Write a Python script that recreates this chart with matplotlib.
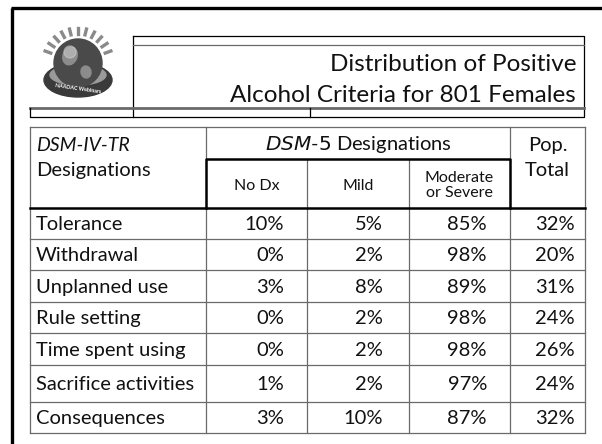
import math
import matplotlib
matplotlib.use("Agg")
import matplotlib.pyplot as plt
from matplotlib.patches import Circle, Ellipse

plt.rcParams['font.family'] = ['Lato', 'DejaVu Sans']

# table data
criteria = ["Tolerance", "Withdrawal", "Unplanned use", "Rule setting",
            "Time spent using", "Sacrifice activities", "Consequences"]
no_dx = [10, 0, 3, 0, 0, 1, 3]
mild = [5, 2, 8, 2, 2, 2, 10]
moderate_severe = [85, 98, 89, 98, 98, 97, 87]
pop_total = [32, 20, 31, 24, 26, 24, 32]
sub_headers = ["No Dx", "Mild", "Moderate\nor Severe"]
title_lines = ["Distribution of Positive", "Alcohol Criteria for 801 Females"]

# layout in pixels
col_x = [30, 206, 307, 409, 510, 585]
row_y = [208, 239, 270, 302, 333, 365, 402, 433]
top_y, sub_y = 127, 159
value_right = [284, 383, 487, 575]

fig = plt.figure(figsize=(6.02, 4.44), dpi=100)
ax = fig.add_axes([0, 0, 1, 1])
ax.set_xlim(0, 602)
ax.set_ylim(444, 0)
ax.axis('off')

ink = '#111111'
grid = '#6a6a6a'
fs = 14.5

# slide frame
ax.plot([12, 12], [444, 8], color='black', lw=2.4, solid_capstyle='butt')
ax.plot([11, 602], [8, 8], color='black', lw=2.4, solid_capstyle='butt')

# title box
ax.plot([133, 584, 584, 133, 133], [36, 36, 117, 117, 36], color='black', lw=0.9)
ax.plot([133, 584], [45, 45], color=grid, lw=0.9)
ax.plot([30, 584], [108, 108], color=grid, lw=2.0)
ax.plot([30, 30, 133], [108, 117, 117], color='black', lw=0.9)
ax.plot([310, 310], [108, 117], color='black', lw=0.9)
ax.text(576, 71, title_lines[0], ha='right', va='baseline', fontsize=17.5, color=ink)
ax.text(576, 102, title_lines[1], ha='right', va='baseline', fontsize=17.5, color=ink)

# logo (rough)
ax.add_patch(Ellipse((78, 80), 68, 34, color='#3a3a3a', zorder=2))
ax.add_patch(Ellipse((78, 75), 56, 20, color='#9a9a9a', zorder=2))
ax.add_patch(Circle((78, 63), 24, color='#4a4a4a', zorder=3))
ax.add_patch(Ellipse((70, 56), 14, 18, angle=20, color='#8c8c8c', zorder=3))
ax.add_patch(Ellipse((86, 72), 10, 12, angle=-10, color='#8c8c8c', zorder=3))
ax.add_patch(Circle((70, 52), 6, color='#d0d0d0', alpha=0.5, zorder=3))
for i in range(11):
    a = math.radians(200 + i * 14)
    ax.plot([78 + 29 * math.cos(a), 78 + 35 * math.cos(a)],
            [63 + 29 * math.sin(a), 63 + 35 * math.sin(a)],
            color='#8a8a8a', lw=2.4, zorder=2)
ax.text(78, 89, "NAADAC Webinars", ha='center', va='center', fontsize=3.8,
        color='white', rotation=-8, fontweight='bold', zorder=4)

# table grid
for y in [top_y] + row_y[1:]:
    ax.plot([col_x[0], col_x[-1]], [y, y], color=grid, lw=0.9)
for x in [col_x[0], col_x[-1]]:
    ax.plot([x, x], [top_y, row_y[-1]], color=grid, lw=0.9)
for x in col_x[1:-1]:
    ax.plot([x, x], [row_y[0], row_y[-1]], color=grid, lw=0.9)
for x in [col_x[1], col_x[4]]:
    ax.plot([x, x], [top_y, sub_y], color=grid, lw=0.9)
for x in col_x[2:4]:
    ax.plot([x, x], [sub_y, row_y[0]], color=grid, lw=0.9)
# heavy lines around the sub-header block
ax.plot([col_x[1], col_x[1], col_x[4], col_x[4]], [row_y[0], sub_y, sub_y, row_y[0]],
        color='black', lw=1.8)
ax.plot([col_x[0], col_x[-1]], [row_y[0], row_y[0]], color='black', lw=1.8)

# header text
ax.text(36, 145, "DSM-IV-TR", ha='left', va='center', fontsize=fs - 0.5, style='italic', color=ink)
ax.text(36, 170, "Designations", ha='left', va='center', fontsize=fs, color=ink)
ax.text((col_x[1] + col_x[4]) / 2, 144, r"$\it{DSM}$-$\it{5}$ Designations",
        ha='center', va='center', fontsize=fs, color=ink)
ax.text((col_x[4] + col_x[5]) / 2, 145, "Pop.", ha='center', va='center', fontsize=fs, color=ink)
ax.text((col_x[4] + col_x[5]) / 2, 170, "Total", ha='center', va='center', fontsize=fs, color=ink)
for i, h in enumerate(sub_headers):
    ax.text((col_x[i + 1] + col_x[i + 2]) / 2, (sub_y + row_y[0]) / 2 + 2, h,
            ha='center', va='center', fontsize=11.5, color=ink, linespacing=1.1)

# body
columns = [no_dx, mild, moderate_severe, pop_total]
for r, name in enumerate(criteria):
    yc = (row_y[r] + row_y[r + 1]) / 2 + 1
    ax.text(36, yc, name, ha='left', va='center', fontsize=fs, color=ink)
    for c, vals in enumerate(columns):
        ax.text(value_right[c], yc, f"{vals[r]}%", ha='right', va='center',
                fontsize=fs, color=ink)

fig.savefig("out.png", dpi=100)
